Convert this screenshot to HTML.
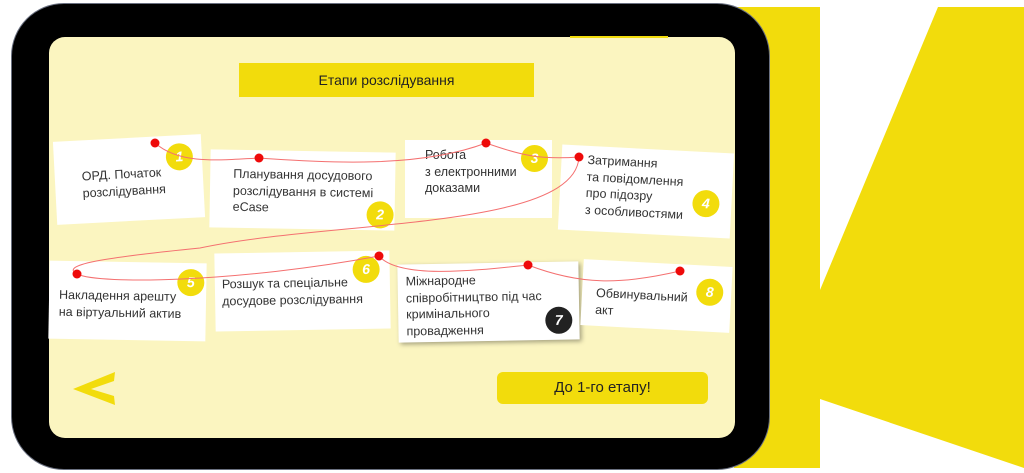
<!DOCTYPE html>
<html><head><meta charset="utf-8"><style>
*{margin:0;padding:0;box-sizing:border-box}
body{width:1024px;height:473px;background:#fff;position:relative;overflow:hidden;font-family:"Liberation Sans","DejaVu Sans",sans-serif;color:#333}
.abs{position:absolute}
.tab{left:12px;top:4px;width:757px;height:465px;background:#000;border-radius:52px;box-shadow:0 0 0 1px #6a7080}
.scr{left:49px;top:37px;width:686px;height:401px;background:#fbf5c0;border-radius:16px}
.card{position:absolute;background:#fff;font-size:12.5px;line-height:16.5px;color:#333}
.b{position:absolute;width:27px;height:27px;border-radius:50%;background:#f2dc0c;color:#fff;font-weight:bold;font-style:italic;font-size:14px;text-align:center;line-height:27px}
</style></head><body>
<svg class="abs" style="left:0;top:0" width="1024" height="473">
<polygon points="734,7 820,7 820,290 938,7 1024,7 1024,468 820,399 820,468 734,468" fill="#f2dc0c"/>
</svg>
<div class="abs tab"></div>
<div class="abs scr"></div>
<div class="abs" style="left:570px;top:36px;width:98px;height:2px;background:#f2dc0c"></div>
<div class="abs" style="left:239px;top:63px;width:295px;height:34px;background:#f2dc0c;font-size:14px;line-height:34px;text-align:center;color:#222">Етапи розслідування</div>

<div class="card" style="left:55px;top:138px;width:148px;height:83px;transform:rotate(-3deg)"><div style="position:absolute;left:27px;top:28px">ОРД. Початок<br>розслідування</div><div class="b" style="left:112px;top:8px">1</div></div>
<div class="card" style="left:210px;top:151px;width:185px;height:78px;transform:rotate(1deg)"><div style="position:absolute;left:23px;top:16px">Планування досудового<br>розслідування в системі<br>eCase</div><div class="b" style="left:157px;top:49px">2</div></div>
<div class="card" style="left:405px;top:140px;width:147px;height:78px"><div style="position:absolute;left:20px;top:7px">Робота<br>з електронними<br>доказами</div><div class="b" style="left:116px;top:5px">3</div></div>
<div class="card" style="left:560px;top:149px;width:172px;height:85px;transform:rotate(3deg)"><div style="position:absolute;left:26px;top:6px">Затримання<br>та повідомлення<br>про підозру<br>з особливостями</div><div class="b" style="left:133px;top:38px">4</div></div>
<div class="card" style="left:49px;top:262px;width:157px;height:78px;transform:rotate(1deg)"><div style="position:absolute;left:10px;top:26px">Накладення арешту<br>на віртуальний актив</div><div class="b" style="left:128px;top:6px">5</div></div>
<div class="card" style="left:215px;top:252px;width:175px;height:78px;transform:rotate(-1deg)"><div style="position:absolute;left:7px;top:23px">Розшук та спеціальне<br>досудове розслідування</div><div class="b" style="left:138px;top:5px">6</div></div>
<div class="card" style="left:398px;top:263px;width:181px;height:78px;transform:rotate(-1deg);box-shadow:2px 2px 5px rgba(0,0,0,.35)"><div style="position:absolute;left:8px;top:9px">Міжнародне<br>співробітництво під час<br>кримінального<br>провадження</div><div class="b" style="left:147px;top:45px;background:#222">7</div></div>
<div class="card" style="left:582px;top:263px;width:149px;height:66px;transform:rotate(3deg)"><div style="position:absolute;left:14px;top:25px">Обвинувальний<br>акт</div><div class="b" style="left:114px;top:13px">8</div></div>

<svg class="abs" style="left:0;top:0" width="1024" height="473">
<path d="M155,143 C180,165 220,160 259,158 C330,163 420,168 486,143 C520,155 540,160 579,157 C575,230 330,220 200,248 C100,258 60,265 77,274 C100,285 240,282 379,256 C400,280 480,270 528,265 C580,285 620,285 680,271" fill="none" stroke="#f47070" stroke-width="1"/>
<g fill="#ee0a0a"><circle cx="155" cy="143" r="4.5"/><circle cx="259" cy="158" r="4.5"/><circle cx="486" cy="143" r="4.5"/><circle cx="579" cy="157" r="4.5"/><circle cx="77" cy="274" r="4.5"/><circle cx="379" cy="256" r="4.5"/><circle cx="528" cy="265" r="4.5"/><circle cx="680" cy="271" r="4.5"/></g>
<polygon points="115,372 73,389 115,405 114,396 91,389 114,381" fill="#f2dc0c"/>
</svg>
<div class="abs" style="left:497px;top:372px;width:211px;height:32px;background:#f2dc0c;border-radius:6px;text-align:center;line-height:32px;font-size:15px;color:#222">До 1-го етапу!</div>
</body></html>
